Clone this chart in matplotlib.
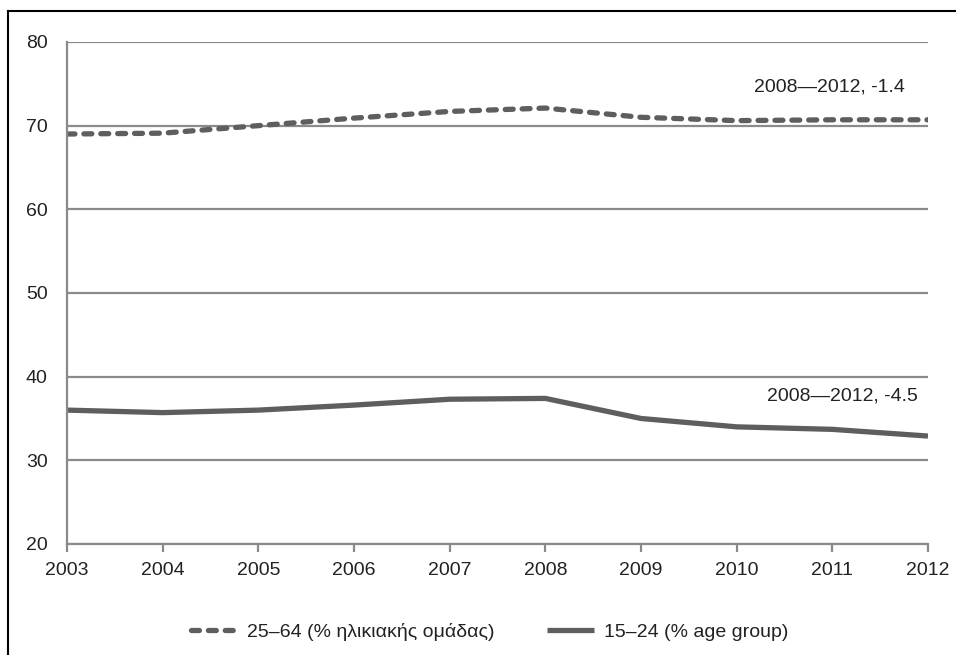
import matplotlib.pyplot as plt
from matplotlib.lines import Line2D

years = [2003, 2004, 2005, 2006, 2007, 2008, 2009, 2010, 2011, 2012]
age_25_64 = [69.0, 69.1, 70.0, 70.9, 71.7, 72.1, 71.0, 70.6, 70.7, 70.7]
age_15_24 = [36.0, 35.7, 36.0, 36.6, 37.3, 37.4, 35.0, 34.0, 33.7, 32.9]
labels = ['25–64 (% ηλικιακής ομάδας)', '15–24 (% age group)']
notes = ['2008—2012, -1.4', '2008—2012, -4.5']

plt.rcParams['font.family'] = ['Liberation Sans', 'DejaVu Sans']
line_col = '#5e5e5e'
grid_col = '#8a8a8a'
text_col = '#222222'
fs = 14

fig = plt.figure(figsize=(9.56, 6.55), dpi=100)
ax = fig.add_axes([0.0701, 0.1695, 0.9006, 0.7664])

ax.plot(years, age_25_64, color=line_col, lw=3.8, dashes=(1.5, 1.7),
        dash_capstyle='round', label=labels[0])
ax.plot(years, age_15_24, color=line_col, lw=3.8, solid_capstyle='butt',
        label=labels[1])

ax.set_xlim(2003, 2012)
ax.set_ylim(20, 80)
ax.set_xticks(years)
ax.set_yticks(range(20, 81, 10))
ax.yaxis.grid(True, color=grid_col, lw=1.6)
ax.set_axisbelow(True)
for s in ['top', 'right']:
    ax.spines[s].set_visible(False)
for s in ['left', 'bottom']:
    ax.spines[s].set_color(grid_col)
    ax.spines[s].set_linewidth(1.6)
ax.tick_params(axis='x', colors=grid_col, length=6, width=1.6, labelcolor=text_col,
               labelsize=fs, pad=7)
ax.tick_params(axis='y', length=0, labelcolor=text_col, labelsize=fs, pad=14)

ax.text(0.9467, 0.867, notes[0], transform=fig.transFigure, ha='right', va='center',
        fontsize=fs, color=text_col)
ax.text(0.9603, 0.3954, notes[1], transform=fig.transFigure, ha='right', va='center',
        fontsize=fs, color=text_col)

fig.legend(loc='center', bbox_to_anchor=(0.512, 0.035), ncol=2, frameon=False,
           fontsize=fs, handlelength=2.4, handletextpad=0.5, columnspacing=2.7,
           labelcolor=text_col)

# outer frame (top and left edges)
fig.add_artist(Line2D([0.0085, 1.0], [0.9835, 0.9835], color='black', lw=1.5,
                      transform=fig.transFigure))
fig.add_artist(Line2D([0.0085, 0.0085], [0.0, 0.9835], color='black', lw=1.5,
                      transform=fig.transFigure))

fig.savefig('out.png', dpi=100)
